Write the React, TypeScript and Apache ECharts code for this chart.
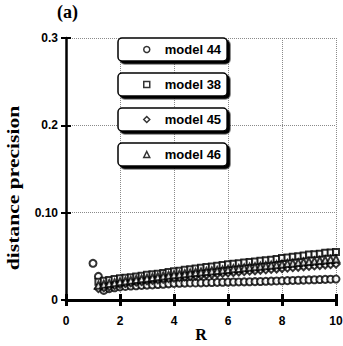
import React, { useEffect, useRef } from "react";
import * as echarts from "echarts";

const rValues = [
  1.0, 1.2, 1.4, 1.6, 1.8, 2.0, 2.2, 2.4, 2.6, 2.8,
  3.0, 3.2, 3.4, 3.6, 3.8, 4.0, 4.2, 4.4, 4.6, 4.8,
  5.0, 5.2, 5.4, 5.6, 5.8, 6.0, 6.2, 6.4, 6.6, 6.8,
  7.0, 7.2, 7.4, 7.6, 7.8, 8.0, 8.2, 8.4, 8.6, 8.8,
  9.0, 9.2, 9.4, 9.6, 9.8, 10.0,
];

const model44 = [
  0.042, 0.027, 0.011, 0.013, 0.014, 0.015, 0.0155, 0.016, 0.0163, 0.0167,
  0.017, 0.0173, 0.0177, 0.018, 0.0185, 0.019, 0.0192, 0.0193, 0.0195, 0.0195,
  0.0196, 0.0198, 0.02, 0.0202, 0.0203, 0.0205, 0.0206, 0.0207, 0.0208, 0.0209,
  0.021, 0.0212, 0.0214, 0.0216, 0.0218, 0.022, 0.0222, 0.0224, 0.0226, 0.0228,
  0.023, 0.0232, 0.0234, 0.0236, 0.0238, 0.024,
];

const model38 = [
  null, 0.021, 0.022, 0.023, 0.024, 0.025, 0.0255, 0.026, 0.027, 0.0278,
  0.029, 0.0295, 0.0302, 0.031, 0.032, 0.033, 0.0336, 0.0345, 0.0352, 0.036,
  0.037, 0.0378, 0.0385, 0.0392, 0.04, 0.041, 0.0415, 0.042, 0.0428, 0.0435,
  0.044, 0.045, 0.0456, 0.0462, 0.047, 0.048, 0.0487, 0.0495, 0.05, 0.051,
  0.052, 0.0525, 0.053, 0.054, 0.0545, 0.055,
];

const model46 = [
  null, 0.017, 0.018, 0.019, 0.0198, 0.021, 0.0218, 0.0225, 0.0234, 0.0242,
  0.025, 0.0258, 0.0265, 0.0274, 0.0282, 0.029, 0.0296, 0.0301, 0.0308, 0.0315,
  0.032, 0.0326, 0.0333, 0.0338, 0.0344, 0.035, 0.0357, 0.0362, 0.0368, 0.0375,
  0.038, 0.0386, 0.0392, 0.0399, 0.0404, 0.041, 0.0417, 0.0422, 0.0428, 0.0435,
  0.044, 0.0446, 0.0452, 0.0458, 0.0465, 0.047,
];

const model45 = [
  null, 0.013, 0.014, 0.0152, 0.0165, 0.018, 0.0188, 0.0196, 0.0204, 0.0212,
  0.022, 0.0226, 0.0232, 0.0238, 0.0244, 0.025, 0.0256, 0.0262, 0.0268, 0.0274,
  0.028, 0.0286, 0.0292, 0.0298, 0.0304, 0.031, 0.0315, 0.032, 0.0325, 0.033,
  0.0335, 0.034, 0.0345, 0.035, 0.0355, 0.036, 0.0365, 0.037, 0.0375, 0.038,
  0.0385, 0.039, 0.0395, 0.04, 0.0405, 0.041,
];

const seriesNames = ["model 44", "model 38", "model 45", "model 46"];
const seriesSymbols = ["circle", "rect", "diamond", "triangle"];
const seriesValues = [model44, model38, model45, model46];
const legendTops = [38, 73, 108, 143];

const xTicks = [0, 2, 4, 6, 8, 10];
const yTickLabels = ["0", "0.10", "0.2", "0.3"];

export default function App() {
  const ref = useRef<HTMLDivElement>(null);

  useEffect(() => {
    if (!ref.current) return;
    const chart = echarts.init(ref.current, null, { renderer: "svg" });

    const sans = "'Liberation Sans', Arial, sans-serif";
    const serif = "'Liberation Serif', 'Times New Roman', serif";

    const gridLine = { show: true, lineStyle: { color: "#8a8a8a", type: "dotted" as const, width: 1 } };

    const series = seriesNames.map((name, k) => ({
      name,
      type: "scatter" as const,
      symbol: seriesSymbols[k],
      symbolSize: k === 1 ? 6 : 7,
      itemStyle: { color: "#fff", borderColor: "#000", borderWidth: 2 },
      data: rValues
        .map((r, i) => [r, seriesValues[k][i]])
        .filter((p) => p[1] !== null),
      z: 3,
    }));

    const legends = seriesNames.map((name, k) => ({
      data: [name],
      left: 118,
      top: legendTops[k],
      orient: "horizontal" as const,
      itemWidth: 6,
      itemHeight: 6,
      padding: [5, 6, 5, 25],
      selectedMode: false,
      backgroundColor: "#fff",
      borderColor: "#000",
      borderWidth: 1.5,
      borderRadius: 4,
      shadowColor: "#000",
      shadowOffsetX: 2.5,
      shadowOffsetY: 2.5,
      shadowBlur: 0,
      itemStyle: { borderWidth: 1.5 },
      textStyle: {
        fontFamily: sans,
        fontWeight: "bold" as const,
        fontSize: 13,
        color: "#000",
        padding: [0, 0, 0, 10],
      },
    }));

    chart.setOption({
      animation: false,
      backgroundColor: "#fff",
      grid: { left: 66, right: 7, top: 38, bottom: 46, containLabel: false, outerBoundsMode: "none" },
      legend: legends,
      xAxis: [
        {
          type: "value",
          min: 0,
          max: 10,
          interval: 2,
          axisLine: { show: true, lineStyle: { color: "#000", width: 3 } },
          axisTick: { show: true, length: 6, lineStyle: { color: "#000", width: 3 } },
          axisLabel: {
            margin: 15,
            fontFamily: sans,
            fontWeight: "bold",
            fontSize: 12,
            color: "#000",
            formatter: (v: number) => (xTicks.includes(v) ? String(v) : ""),
          },
          splitLine: gridLine,
        },
        {
          type: "value",
          min: 0,
          max: 10,
          interval: 2,
          position: "bottom",
          axisLine: { show: false },
          axisTick: { show: true, inside: true, length: 6, lineStyle: { color: "#000", width: 3 } },
          axisLabel: { show: false },
          splitLine: { show: false },
        },
      ],
      yAxis: [
        {
          type: "value",
          min: 0,
          max: 0.3,
          interval: 0.1,
          axisLine: { show: true, lineStyle: { color: "#000", width: 2.5 } },
          axisTick: { show: true, length: 5, lineStyle: { color: "#000", width: 2 } },
          axisLabel: {
            margin: 8,
            fontFamily: sans,
            fontWeight: "bold",
            fontSize: 12,
            color: "#000",
            formatter: (v: number) => yTickLabels[Math.round(v / 0.1)] ?? "",
          },
          splitLine: gridLine,
        },
        {
          type: "value",
          min: 0,
          max: 0.3,
          interval: 0.1,
          position: "left",
          axisLine: { show: false },
          axisTick: { show: true, inside: true, length: 5, lineStyle: { color: "#000", width: 2 } },
          axisLabel: { show: false },
          splitLine: { show: false },
        },
      ],
      graphic: [
        {
          type: "text",
          left: 57,
          top: 3,
          style: { text: "(a)", fontFamily: serif, fontWeight: "bold", fontSize: 18, fill: "#000" },
        },
        {
          type: "text",
          x: 201,
          y: 334,
          style: {
            text: "R",
            fontFamily: serif,
            fontWeight: "bold",
            fontSize: 16,
            fill: "#000",
            align: "center",
            verticalAlign: "middle",
          },
        },
        {
          type: "text",
          x: 14,
          y: 188,
          rotation: Math.PI / 2,
          scaleX: 1.35,
          style: {
            text: "distance precision",
            fontFamily: serif,
            fontWeight: "bold",
            fontSize: 16,
            fill: "#000",
            align: "center",
            verticalAlign: "middle",
          },
        },
      ],
      series,
    });

    return () => chart.dispose();
  }, []);

  return <div ref={ref} style={{ width: 343, height: 346, position: "absolute", left: 0, top: 0 }} />;
}
